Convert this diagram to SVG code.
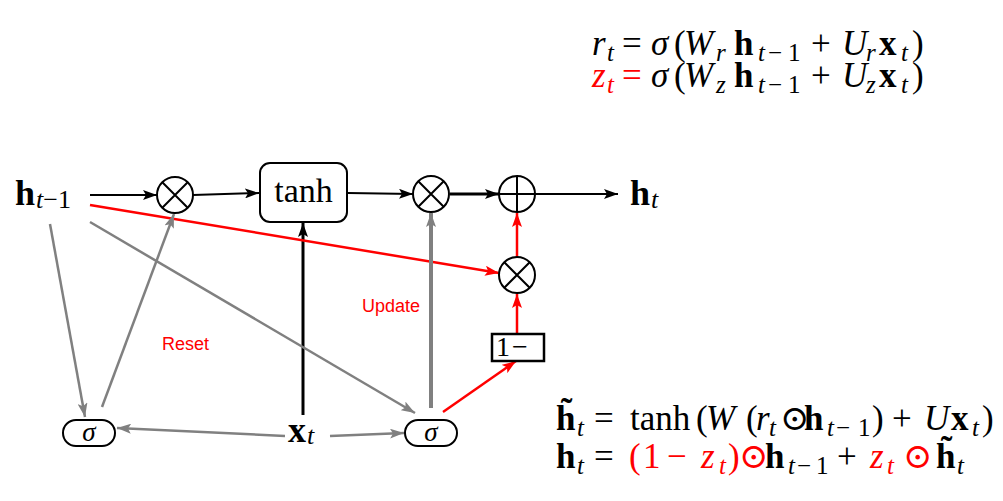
<svg xmlns="http://www.w3.org/2000/svg" width="1003" height="501" viewBox="0 0 1003 501">
<style>
.m{font-family:"Liberation Serif","DejaVu Serif",serif;fill:#000}
.i{font-style:italic}
.b{font-weight:bold}
.r{fill:#ff0000}
.s{font-size:25px}
.lbl{font-family:"Liberation Sans","DejaVu Sans",sans-serif;font-size:18px;fill:#ff0000}
.op{fill:#fff;stroke:#000;stroke-width:2}
.k{stroke:#000;stroke-width:2;fill:none}
.cb{stroke:#000;stroke-width:2;fill:none;marker-end:url(#ab)}
.cg{stroke:#808080;stroke-width:2.5;fill:none;marker-end:url(#ag)}
.cr{stroke:#ff0000;stroke-width:2.5;fill:none;marker-end:url(#ar)}
</style>
<defs>
<marker id="ab" viewBox="0 0 14 10" refX="14" refY="5" markerWidth="14" markerHeight="10" markerUnits="userSpaceOnUse" orient="auto"><path d="M0,0 L14,5 L0,10 L3,5 z" fill="#000"/></marker>
<marker id="ag" viewBox="0 0 14 10" refX="14" refY="5" markerWidth="14" markerHeight="10" markerUnits="userSpaceOnUse" orient="auto"><path d="M0,0 L14,5 L0,10 L3,5 z" fill="#808080"/></marker>
<marker id="ar" viewBox="0 0 14 10" refX="14" refY="5" markerWidth="14" markerHeight="10" markerUnits="userSpaceOnUse" orient="auto"><path d="M0,0 L14,5 L0,10 L3,5 z" fill="#ff0000"/></marker>
</defs>
<rect width="1003" height="501" fill="#fff"/>

<g id="connectors">
<line class="cb" x1="90" y1="195" x2="157" y2="195"/>
<line class="cb" x1="193" y1="195" x2="259" y2="193"/>
<line class="cb" x1="348" y1="193" x2="413" y2="194"/>
<line class="cb" x1="450" y1="194" x2="499" y2="194" style="stroke-width:3"/>
<line class="cb" x1="535" y1="194" x2="618" y2="194"/>
<line class="cb" x1="303" y1="415" x2="303" y2="223" style="stroke-width:3"/>
<line class="cr" x1="90" y1="205" x2="499" y2="273"/>
<line class="cr" x1="517" y1="257" x2="517" y2="213"/>
<line class="cr" x1="517" y1="334" x2="517" y2="294"/>
<line class="cr" x1="443" y1="412" x2="516" y2="361"/>
<line class="cg" x1="431" y1="408" x2="431" y2="213" style="stroke-width:4"/>
<line class="cg" x1="50" y1="224" x2="85" y2="417"/>
<line class="cg" x1="102" y1="407" x2="174" y2="214"/>
<line class="cg" x1="90" y1="222" x2="415" y2="413"/>
<line class="cg" x1="285" y1="436" x2="117" y2="428"/>
<line class="cg" x1="330" y1="436" x2="404" y2="433"/>
</g>

<g id="h_prev"><text class="m" x="15" y="205" font-size="36"><tspan class="b">h</tspan><tspan class="i" font-size="26" dx="1" dy="3">t</tspan><tspan font-size="26">−1</tspan></text></g>
<g id="h_t"><text class="m" x="630" y="205" font-size="36"><tspan class="b">h</tspan><tspan class="i" font-size="26" dx="1" dy="3">t</tspan></text></g>
<g id="x_t"><text class="m" x="288" y="442" font-size="36"><tspan class="b">x</tspan><tspan class="i" font-size="26" dx="1" dy="2">t</tspan></text></g>

<g id="mul_reset">
<circle class="op" cx="175" cy="195" r="18"/>
<path class="k" d="M162.3,182.3 L187.7,207.7 M187.7,182.3 L162.3,207.7"/>
</g>
<g id="tanh">
<rect x="260" y="163" width="87" height="59" rx="10" fill="#fff" stroke="#000" stroke-width="2"/>
<text class="m" x="303.5" y="202" font-size="34" text-anchor="middle">tanh</text>
</g>
<g id="mul_update">
<circle class="op" cx="431" cy="194" r="18"/>
<path class="k" d="M418.3,181.3 L443.7,206.7 M443.7,181.3 L418.3,206.7"/>
</g>
<g id="add">
<circle class="op" cx="517" cy="194" r="18"/>
<path class="k" d="M499,194 L535,194 M517,176 L517,212"/>
</g>
<g id="mul_prev">
<circle class="op" cx="517" cy="275" r="18"/>
<path class="k" d="M504.3,262.3 L529.7,287.7 M529.7,262.3 L504.3,287.7"/>
</g>
<g id="one_minus">
<rect x="492" y="334" width="52" height="27" fill="#fff" stroke="#000" stroke-width="2.5"/>
<text class="m" x="496" y="356" font-size="28">1</text>
<text class="m" x="512" y="356" font-size="28">−</text>
</g>
<g id="sigma_r">
<rect x="63" y="420" width="52" height="26" rx="13" fill="#fff" stroke="#000" stroke-width="2"/>
<text class="m i" x="89" y="441" font-size="27" text-anchor="middle">σ</text>
</g>
<g id="sigma_z">
<rect x="405" y="420" width="52" height="26" rx="13" fill="#fff" stroke="#000" stroke-width="2"/>
<text class="m i" x="431" y="441" font-size="27" text-anchor="middle">σ</text>
</g>

<g id="labels">
<text class="lbl" x="162" y="350">Reset</text>
<text class="lbl" x="362" y="312">Update</text>
</g>

<g id="equations" class="m" font-size="35">
<text><tspan class="i" x="592" y="55">r</tspan><tspan class="i s" x="607" y="61">t</tspan><tspan x="622" y="55">=</tspan><tspan class="i" x="651" y="55">σ</tspan><tspan x="674" y="55">(</tspan><tspan class="i" x="684" y="55">W</tspan><tspan class="i s" x="716" y="61">r</tspan><tspan class="b" x="734" y="55">h</tspan><tspan class="i s" x="758" y="61">t</tspan><tspan class="s" x="768" y="61">−</tspan><tspan class="s" x="788" y="61">1</tspan><tspan x="811" y="55">+</tspan><tspan class="i" x="842" y="55">U</tspan><tspan class="i s" x="866" y="61">r</tspan><tspan class="b" x="879" y="55">x</tspan><tspan class="i s" x="901" y="61">t</tspan><tspan x="912" y="55">)</tspan></text>
<text><tspan class="i r" x="592" y="87">z</tspan><tspan class="i r s" x="607" y="93">t</tspan><tspan class="r" x="622" y="87">=</tspan><tspan class="i" x="651" y="87">σ</tspan><tspan x="674" y="87">(</tspan><tspan class="i" x="684" y="87">W</tspan><tspan class="i s" x="716" y="93">z</tspan><tspan class="b" x="734" y="87">h</tspan><tspan class="i s" x="758" y="93">t</tspan><tspan class="s" x="768" y="93">−</tspan><tspan class="s" x="788" y="93">1</tspan><tspan x="811" y="87">+</tspan><tspan class="i" x="842" y="87">U</tspan><tspan class="i s" x="866" y="93">z</tspan><tspan class="b" x="879" y="87">x</tspan><tspan class="i s" x="901" y="93">t</tspan><tspan x="912" y="87">)</tspan></text>
<text><tspan class="b" x="556" y="430">h̃</tspan><tspan class="i s" x="577" y="436">t</tspan><tspan x="594" y="430">=</tspan><tspan x="630" y="430">tanh</tspan><tspan x="696" y="430">(</tspan><tspan class="i" x="706" y="430">W</tspan><tspan x="746" y="430">(</tspan><tspan class="i" x="756" y="430">r</tspan><tspan class="i s" x="769" y="436">t</tspan><tspan x="780" y="430">⊙</tspan><tspan class="b" x="804" y="430">h</tspan><tspan class="i s" x="827" y="436">t</tspan><tspan class="s" x="836" y="436">−</tspan><tspan class="s" x="858" y="436">1</tspan><tspan x="872" y="430">)</tspan><tspan x="892" y="430">+</tspan><tspan class="i" x="924" y="430">U</tspan><tspan class="b" x="951" y="430">x</tspan><tspan class="i s" x="972" y="436">t</tspan><tspan x="982" y="430">)</tspan></text>
<text><tspan class="b" x="556" y="468">h</tspan><tspan class="i s" x="577" y="474">t</tspan><tspan x="594" y="468">=</tspan><tspan class="r" x="629" y="468">(</tspan><tspan class="r" x="643" y="468">1</tspan><tspan class="r" x="667" y="468">−</tspan><tspan class="i r" x="701" y="468">z</tspan><tspan class="i r s" x="719" y="474">t</tspan><tspan class="r" x="728" y="468">)</tspan><tspan class="r" x="739" y="468">⊙</tspan><tspan class="b" x="765" y="468">h</tspan><tspan class="i s" x="788" y="474">t</tspan><tspan class="s" x="797" y="474">−</tspan><tspan class="s" x="816" y="474">1</tspan><tspan x="837" y="468">+</tspan><tspan class="i r" x="870" y="468">z</tspan><tspan class="i r s" x="887" y="474">t</tspan><tspan class="r" x="903" y="468">⊙</tspan><tspan class="b" x="936" y="468">h̃</tspan><tspan class="i s" x="957" y="474">t</tspan></text>
</g>
</svg>
